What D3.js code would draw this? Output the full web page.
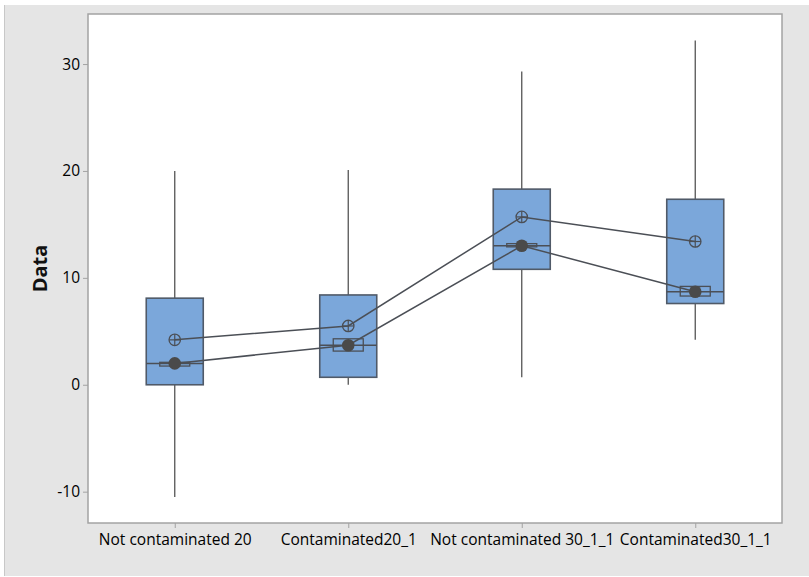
<!DOCTYPE html>
<html><head><meta charset="utf-8">
<script src="https://cdn.jsdelivr.net/npm/d3@7"></script>
<style>body{margin:0;background:#fff;}svg{display:block;}</style>
</head><body>
<script>
const categories = ["Not contaminated 20","Contaminated20_1","Not contaminated 30_1_1","Contaminated30_1_1"];
const whiskerLow  = [-10.5, 0.0, 0.7, 4.2];
const q1          = [0.0, 0.7, 10.8, 7.6];
const median      = [2.0, 3.7, 13.0, 8.7];
const q3          = [8.1, 8.4, 18.3, 17.35];
const whiskerHigh = [20.0, 20.1, 29.3, 32.2];
const means       = [4.2, 5.5, 15.7, 13.4];
const ciLow       = [1.75, 3.15, 12.9, 8.3];
const ciHigh      = [2.1, 4.3, 13.2, 9.2];
const yTicks      = [-10, 0, 10, 20, 30];
const yLabel = "Data";

const W = 809, H = 577;
const plot = {l: 88, r: 782, t: 14, b: 523};
const svg = d3.select("body").append("svg").attr("width", W).attr("height", H);

svg.append("rect").attr("x",4).attr("y",5).attr("width",W-4).attr("height",571).attr("fill","#e5e5e5");
svg.append("line").attr("x1",4.5).attr("x2",4.5).attr("y1",5).attr("y2",576).attr("stroke","#c8c8c8");
svg.append("rect").attr("x",plot.l).attr("y",plot.t).attr("width",plot.r-plot.l).attr("height",plot.b-plot.t)
  .attr("fill","#fff").attr("stroke","#a3a3a3").attr("stroke-width",1.5);

const x = d3.scalePoint().domain(categories).range([plot.l, plot.r]).padding(0.5);
const y = d3.scaleLinear().domain([-12.93, 34.68]).range([plot.b, plot.t]);
const font = "'Open Sans', 'Noto Sans', sans-serif";

const yAxis = svg.append("g").attr("transform",`translate(${plot.l},0)`)
  .call(d3.axisLeft(y).tickValues(yTicks).tickSize(5).tickPadding(3).tickFormat(d => String(d)));
yAxis.select(".domain").remove();
yAxis.selectAll("line").attr("stroke","#a3a3a3");
yAxis.selectAll("text").attr("font-family",font).attr("font-size",15.5).attr("fill","#000");

const xAxis = svg.append("g").attr("transform",`translate(0,${plot.b})`)
  .call(d3.axisBottom(x).tickSize(5).tickPadding(6));
xAxis.select(".domain").remove();
xAxis.selectAll("line").attr("stroke","#a3a3a3");
xAxis.selectAll("text").attr("font-family",font).attr("font-size",15.5).attr("fill","#000");

svg.append("text").attr("transform",`translate(47,${(plot.t+plot.b)/2}) rotate(-90)`)
  .attr("text-anchor","middle").attr("font-family",font).attr("font-weight",700)
  .attr("font-size",20).attr("fill","#111").text(yLabel);

const bw = 57, ciw = 30;
const data = categories.map((c,i)=>({c, lo:whiskerLow[i], q1:q1[i], med:median[i], q3:q3[i], hi:whiskerHigh[i], mean:means[i], cil:ciLow[i], cih:ciHigh[i]}));
const stroke = "#4b4f56";

const g = svg.append("g");
data.forEach(d=>{
  const cx = x(d.c);
  g.append("line").attr("x1",cx).attr("x2",cx).attr("y1",y(d.hi)).attr("y2",y(d.q3)).attr("stroke","#555").attr("stroke-width",1.3);
  g.append("line").attr("x1",cx).attr("x2",cx).attr("y1",y(d.q1)).attr("y2",y(d.lo)).attr("stroke","#555").attr("stroke-width",1.3);
  g.append("rect").attr("x",cx-bw/2).attr("y",y(d.q3)).attr("width",bw).attr("height",y(d.q1)-y(d.q3))
    .attr("fill","#7ba7da").attr("stroke","#505a68").attr("stroke-width",1.6);
  g.append("rect").attr("x",cx-ciw/2).attr("y",y(d.cih)).attr("width",ciw).attr("height",Math.max(1,y(d.cil)-y(d.cih)))
    .attr("fill","#7ba7da").attr("stroke",stroke).attr("stroke-width",1.3);
  g.append("line").attr("x1",cx-bw/2).attr("x2",cx+bw/2).attr("y1",y(d.med)).attr("y2",y(d.med)).attr("stroke",stroke).attr("stroke-width",1.5);
});

g.append("path").datum(data).attr("d", d3.line().x(d=>x(d.c)).y(d=>y(d.mean))).attr("fill","none").attr("stroke",stroke).attr("stroke-width",1.5);
g.append("path").datum(data).attr("d", d3.line().x(d=>x(d.c)).y(d=>y(d.med))).attr("fill","none").attr("stroke",stroke).attr("stroke-width",1.5);

data.forEach(d=>{
  const cx = x(d.c), my = y(d.mean), r = 5.7;
  g.append("circle").attr("cx",cx).attr("cy",my).attr("r",r).attr("fill","none").attr("stroke",stroke).attr("stroke-width",1.3);
  g.append("line").attr("x1",cx-r).attr("x2",cx+r).attr("y1",my).attr("y2",my).attr("stroke",stroke).attr("stroke-width",1.2);
  g.append("line").attr("x1",cx).attr("x2",cx).attr("y1",my-r).attr("y2",my+r).attr("stroke",stroke).attr("stroke-width",1.2);
  g.append("circle").attr("cx",cx).attr("cy",y(d.med)).attr("r",6.3).attr("fill","#4a4a4a");
});
</script>
</body></html>
